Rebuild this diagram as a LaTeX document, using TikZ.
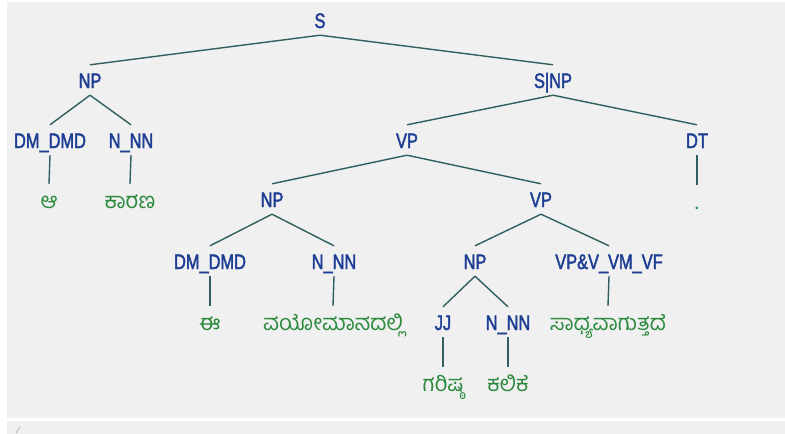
\documentclass[tikz,border=0pt]{standalone}
\usepackage{fontspec}
\newfontfamily\labfont{Liberation Sans}[FakeStretch=0.78, FakeBold=2]
\newfontfamily\kanfont{Hind Mysuru}[Script=Kannada]
\definecolor{labblue}{HTML}{1E3F94}
\definecolor{termgreen}{HTML}{2B8A3E}
\definecolor{linecol}{HTML}{2F5F5F}
\definecolor{panel}{HTML}{F0F0F0}
\begin{document}
\begin{tikzpicture}[x=1pt,y=-1pt,
  lab/.style={font=\labfont\fontsize{21pt}{21pt}\selectfont, text=labblue, text height=16pt, text depth=0pt, inner ysep=7pt, inner xsep=0pt, anchor=base},
  term/.style={font=\kanfont\fontsize{22pt}{22pt}\selectfont, text=termgreen, text height=24pt, text depth=0pt, inner sep=0pt, anchor=base},
  edge/.style={draw=linecol, line width=1.4pt}]
\useasboundingbox (0,0) rectangle (785,434);
\fill[white] (0,0) rectangle (785,434);
\fill[panel] (7,2) rectangle (785,418);
\fill[panel] (7,421) rectangle (785,434);
\draw[gray!60, line width=0.8pt] (16,433) -- (20,427);

\node[lab] (S) at (320,28) {S};
\node[lab] (NP1) at (90,88) {NP};
\node[lab] (SNP) at (553,88) {S|NP};
\node[lab] (DM1) at (50,148) {DM\_DMD};
\node[lab] (NN1) at (131,148) {N\_NN};
\node[lab] (VP1) at (407,148) {VP};
\node[lab] (DT) at (697,148) {DT};
\node[lab] (NP2) at (272,207) {NP};
\node[lab] (VP2) at (541,207) {VP};
\node[lab] (DM2) at (210,269) {DM\_DMD};
\node[lab] (NN2) at (334,269) {N\_NN};
\node[lab] (NP3) at (475,269) {NP};
\node[lab] (VF) at (609,269) {VP\&V\_VM\_VF};
\node[lab] (JJ) at (443,330) {JJ};
\node[lab] (NN3) at (508,330) {N\_NN};

\node[term] (t1) at (49,208) {ಆ};
\node[term] (t2) at (130,208) {ಕಾರಣ};
\node[term] (t3) at (697,209) {.};
\node[term] (t4) at (210,330) {ಈ};
\node[term] (t5) at (333,330) {ವಯೋಮಾನದಲ್ಲಿ};
\node[term] (t6) at (608,330) {ಸಾಧ್ಯವಾಗುತ್ತದೆ};
\node[term] (t7) at (443,391) {ಗರಿಷ್ಠ};
\node[term] (t8) at (508,391) {ಕಲಿಕೆ};

\draw[edge] (S.south) -- (NP1.north);
\draw[edge] (S.south) -- (SNP.north);
\draw[edge] (NP1.south) -- (DM1.north);
\draw[edge] (NP1.south) -- (NN1.north);
\draw[edge] (SNP.south) -- (VP1.north);
\draw[edge] (SNP.south) -- (DT.north);
\draw[edge] (VP1.south) -- (NP2.north);
\draw[edge] (VP1.south) -- (VP2.north);
\draw[edge] (NP2.south) -- (DM2.north);
\draw[edge] (NP2.south) -- (NN2.north);
\draw[edge] (VP2.south) -- (NP3.north);
\draw[edge] (VP2.south) -- (VF.north);
\draw[edge] (NP3.south) -- (JJ.north);
\draw[edge] (NP3.south) -- (NN3.north);
\draw[edge] (DM1.south) -- (t1.north);
\draw[edge] (NN1.south) -- (t2.north);
\draw[edge] (DT.south) -- (t3.north);
\draw[edge] (DM2.south) -- (t4.north);
\draw[edge] (NN2.south) -- (t5.north);
\draw[edge] (VF.south) -- (t6.north);
\draw[edge] (JJ.south) -- (t7.north);
\draw[edge] (NN3.south) -- (t8.north);
\end{tikzpicture}
\end{document}
